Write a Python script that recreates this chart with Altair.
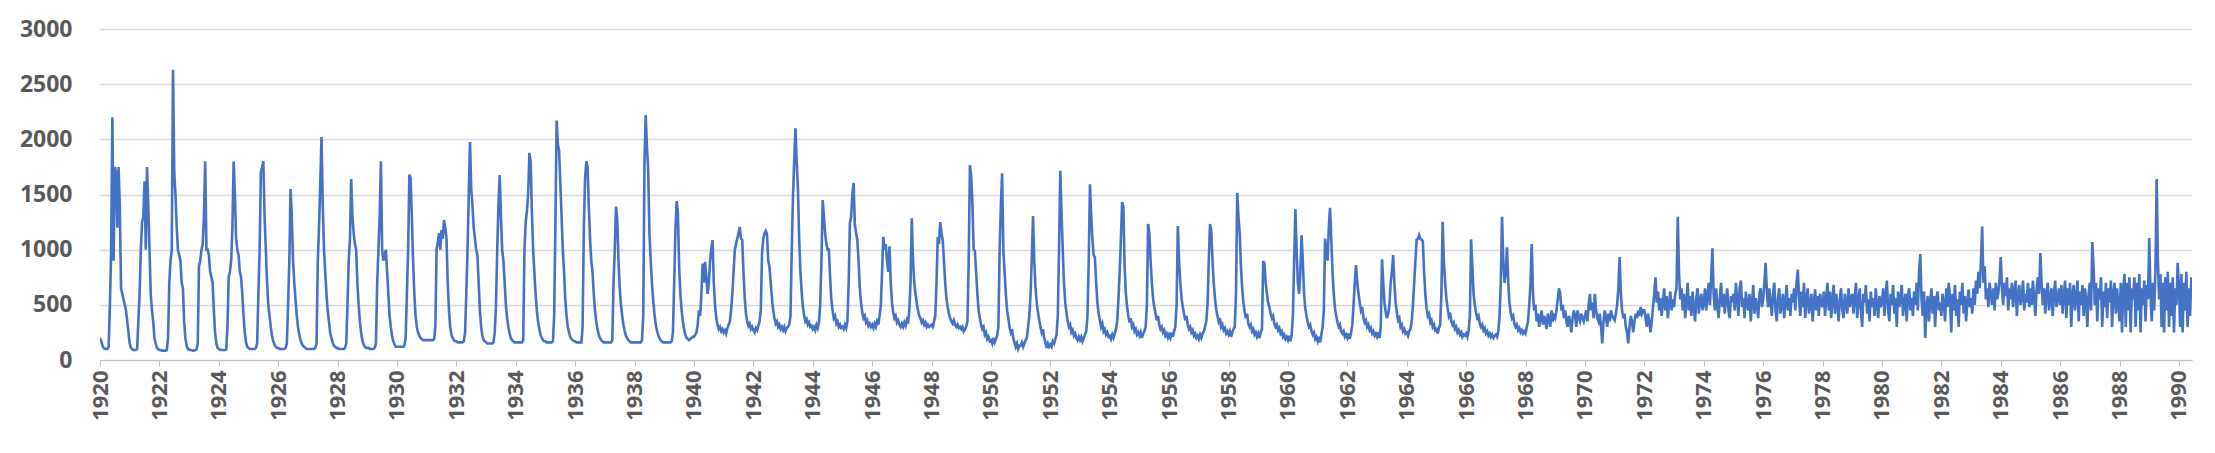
import altair as alt
import pandas as pd

# ---- axis ticks ----
X_TICK_YEARS = list(range(1920, 1991, 2))
Y_TICKS = [0, 500, 1000, 1500, 2000, 2500, 3000]

# ---- values: 24 samples per year (semi-monthly) ----
flow_1920s = [
    [200,170,130,110,100,100,100,120,500,1000,2200,900,1750,1700,1200,1750,1400,650,600,550,500,450,350,250],
    [150,110,100,90,90,90,100,350,600,1000,1250,1300,1620,1000,1750,1400,1000,600,450,350,200,150,110,100],
    [90,90,85,85,85,85,90,200,700,900,1000,2630,1700,1500,1200,1000,950,900,700,650,350,200,130,100],
    [95,90,90,85,85,90,95,150,850,900,1000,1050,1300,1800,1000,1000,950,800,750,700,450,250,150,110],
    [100,95,90,90,90,90,95,300,750,800,900,1200,1800,1500,1100,1000,950,800,750,600,400,250,160,120],
    [110,100,100,100,100,100,110,150,600,1000,1700,1750,1800,1300,1000,700,500,400,300,220,170,140,120,110],
    [110,100,100,100,100,100,110,150,500,900,1550,1300,900,700,550,400,300,230,180,150,130,120,110,100],
    [100,100,100,100,100,100,110,150,900,1200,1600,2020,1400,1000,800,600,450,350,250,200,160,130,120,110],
    [110,100,100,100,100,100,110,150,500,900,1100,1640,1300,1150,1050,1000,700,500,350,250,180,140,120,110],
    [110,110,100,100,100,100,110,150,700,1000,1300,1800,1000,900,950,1000,800,600,400,300,220,170,140,120],
]
flow_1930s = [
    [120,120,120,120,120,120,130,200,600,1000,1680,1650,1300,900,600,400,300,250,220,200,190,180,180,180],
    [180,180,180,180,180,180,190,300,1000,1070,1150,1000,1178,1100,1270,1200,1100,700,450,300,230,200,180,170],
    [170,160,160,160,160,160,170,250,600,1000,1500,1976,1550,1400,1200,1100,1000,950,700,450,300,220,180,170],
    [160,150,150,150,150,150,160,250,500,1000,1400,1677,1300,1000,900,700,500,380,300,240,200,180,170,160],
    [160,160,160,160,160,160,180,1000,1250,1350,1500,1877,1800,1350,1000,800,600,450,350,280,230,200,180,170],
    [170,160,160,160,160,160,170,400,1200,2170,1950,1900,1600,1300,1000,800,550,400,300,250,210,190,180,170],
    [170,160,160,160,160,160,300,1200,1650,1800,1750,1400,1100,900,800,600,450,350,280,230,200,180,170,160],
    [160,160,160,160,160,160,180,700,1000,1390,1270,900,650,500,400,320,260,220,200,180,170,160,160,160],
    [160,160,160,160,160,160,180,400,1800,2220,1933,1722,1148,906,700,550,420,330,270,230,200,180,170,160],
    [160,160,160,160,160,160,170,250,700,1178,1441,1330,846,600,450,350,280,230,200,190,180,190,200,210],
]
flow_1940s = [
    [210,230,250,320,450,400,600,875,700,890,750,600,700,900,1000,1088,700,500,380,320,280,300,260,280],
    [250,270,240,290,320,350,450,600,800,1000,1050,1100,1150,1206,1100,1088,800,560,420,350,310,330,280,300],
    [270,250,290,270,310,350,450,967,1100,1150,1170,1140,900,846,700,560,450,380,330,350,300,320,280,300],
    [270,300,260,290,300,320,400,1000,1480,1800,2100,1800,1560,1100,800,620,480,400,350,370,320,340,300,310],
    [280,300,270,320,290,340,500,900,1450,1300,1148,1050,1000,1000,750,550,450,380,400,330,350,300,320,290],
    [300,280,320,290,350,700,1240,1300,1500,1605,1226,1150,1088,900,650,520,430,380,400,340,360,310,330,300],
    [320,290,330,300,350,320,400,500,800,1115,1000,1050,900,800,1030,700,520,430,380,400,340,360,320,300],
    [330,300,340,310,360,330,450,700,1284,900,700,600,520,450,400,380,340,360,320,340,300,320,300,310],
    [320,300,350,400,700,1115,1050,1250,1150,1088,900,700,560,480,420,380,350,330,360,320,300,320,290,300],
    [280,300,260,280,300,350,900,1767,1670,1420,1000,990,800,600,450,380,320,280,300,230,250,190,210,170],
]
flow_1950s = [
    [180,150,200,160,190,220,300,1000,1400,1692,1000,800,600,450,380,300,250,280,200,160,120,150,100,130],
    [130,160,120,150,180,200,300,400,600,927,1305,900,650,520,430,360,300,250,280,200,160,110,150,120],
    [140,120,170,150,190,230,400,1000,1715,1330,1000,700,520,430,350,300,320,250,270,220,240,200,180,210],
    [180,210,170,200,230,260,400,900,1592,1300,1088,950,930,700,520,420,360,300,330,260,280,230,250,210],
    [220,190,230,200,240,280,350,550,800,1100,1432,1390,850,600,480,400,340,380,300,320,260,280,230,250],
    [220,250,200,240,260,300,500,1233,1150,900,700,560,480,420,360,400,320,280,300,250,270,220,240,200],
    [230,200,250,210,260,300,500,1215,900,700,560,480,420,360,400,320,280,300,250,270,220,240,200,220],
    [190,230,200,240,260,300,350,500,900,1233,1178,906,700,560,460,400,350,380,300,320,270,290,240,260],
    [230,260,210,250,280,300,600,1516,1300,1148,850,650,520,440,380,420,330,300,320,260,280,230,250,210],
    [240,200,250,280,897,875,700,600,520,480,420,380,400,330,300,320,270,290,240,260,210,230,190,210],
]
flow_1960s = [
    [180,220,170,230,400,900,1366,1000,700,600,800,1130,900,600,470,400,340,300,320,260,230,250,190,210],
    [170,210,160,230,300,450,1100,1000,900,1200,1380,1100,800,600,470,400,340,300,320,260,240,260,210,230],
    [200,240,190,250,320,500,700,861,700,600,520,450,480,380,340,360,300,320,270,290,240,260,220,240],
    [210,250,200,300,912,700,520,430,380,420,500,700,800,952,700,520,430,360,380,300,320,260,280,240],
    [250,220,260,280,350,500,700,900,1090,1100,1133,1100,1090,1076,800,600,470,400,420,340,360,300,320,270],
    [280,240,290,320,600,1253,900,700,560,470,400,430,350,320,340,280,300,250,270,230,250,210,230,220],
    [240,210,260,400,1094,846,600,500,430,380,400,330,300,320,270,290,240,260,220,240,210,230,200,220],
    [230,210,260,400,700,1298,900,700,800,1022,700,520,430,380,400,330,300,320,270,290,250,270,240,260],
    [240,300,350,500,700,1051,600,450,500,350,420,300,380,450,320,400,350,280,420,380,300,450,350,400],
    [380,450,550,650,600,450,500,380,450,350,300,400,350,250,380,450,400,300,450,380,350,420,380,350],
]
flow_1970s = [
    [400,450,350,500,600,450,520,380,600,450,380,350,420,300,150,350,450,380,300,420,350,450,400,380],
    [360,420,500,650,934,600,450,380,420,300,250,150,300,400,350,250,350,420,380,450,400,480,420,450],
    [450,380,300,420,350,250,350,480,600,750,520,620,450,560,400,520,650,450,580,380,520,620,450,550],
    [480,600,650,1298,800,550,650,450,600,380,520,700,450,580,400,620,480,350,560,650,420,540,600,450],
    [520,650,450,580,700,500,750,1012,600,450,650,500,380,560,700,480,600,420,550,650,450,380,580,520],
    [600,450,700,550,400,650,720,480,560,380,620,500,450,600,350,520,680,420,560,500,380,600,650,480],
    [550,700,880,620,480,650,520,400,600,700,450,350,560,650,420,500,600,380,520,680,450,560,400,600],
    [520,650,450,700,820,560,400,620,480,700,380,550,650,420,500,600,350,520,640,450,580,400,600,520],
    [480,620,400,560,700,450,620,380,540,680,420,600,500,350,560,650,450,380,600,520,420,650,480,560],
    [600,420,560,700,380,520,650,450,300,600,520,680,420,550,350,620,480,560,400,650,500,380,580,480],
]
flow_1980s = [
    [520,650,400,580,720,450,350,600,500,680,420,560,300,620,480,550,680,400,520,600,350,580,650,450],
    [560,400,620,500,700,450,800,960,550,400,620,200,480,580,350,520,650,420,580,300,560,620,450,520],
    [400,600,520,350,650,480,700,560,250,600,450,680,400,550,300,620,500,700,420,580,350,520,640,480],
    [560,420,650,500,720,600,800,650,900,1210,700,850,550,650,480,700,600,500,650,450,700,550,600,720],
    [934,650,500,700,580,750,450,650,550,700,480,620,720,400,600,680,500,560,720,450,600,520,700,480],
    [650,500,720,560,400,650,750,600,970,700,500,650,420,600,700,450,560,650,400,600,720,480,550,650],
    [500,680,420,600,720,380,650,500,700,300,600,680,450,560,720,350,620,500,680,400,650,550,300,600],
    [700,450,1070,843,500,700,350,650,550,750,300,620,480,700,380,650,520,720,300,600,700,420,650,500],
    [350,700,250,650,780,300,700,450,750,250,650,550,750,300,700,450,780,250,650,500,720,350,680,550],
    [1105,600,350,700,450,800,1640,900,550,780,300,700,250,750,450,800,300,700,400,750,250,650,500,880],
]
flow_1990 = [650,300,780,250,700,450,800,300,650,400,750]

# ---- build the table ----
decades = {1920: flow_1920s, 1930: flow_1930s, 1940: flow_1940s, 1950: flow_1950s,
           1960: flow_1960s, 1970: flow_1970s, 1980: flow_1980s}
records = []
for start, block in decades.items():
    for i, vals in enumerate(block):
        yr = start + i
        n = len(vals)
        for k, v in enumerate(vals):
            records.append({"t": yr + k / n, "q": v})
for k, v in enumerate(flow_1990):
    records.append({"t": 1990 + k / 24, "q": v})
df = pd.DataFrame(records)

FONT = "Open Sans"
LABEL_COLOR = "#595959"

chart = (
    alt.Chart(df)
    .mark_line(color="#4472C4", strokeWidth=2.6, clip=True)
    .encode(
        x=alt.X(
            "t:Q",
            title=None,
            scale=alt.Scale(domain=[1920, 1990.44], nice=False, zero=False),
            axis=alt.Axis(
                values=X_TICK_YEARS, format="d", labelAngle=-90, grid=False,
                domainColor="#bfbfbf", domainWidth=1, tickColor="#bfbfbf", tickSize=6,
                labelFont=FONT, labelFontSize=22, labelFontWeight="bold",
                labelColor=LABEL_COLOR, labelPadding=4, labelOverlap=False,
                labelFlush=False,
            ),
        ),
        y=alt.Y(
            "q:Q",
            title=None,
            scale=alt.Scale(domain=[0, 3000], nice=False),
            axis=alt.Axis(
                values=Y_TICKS, format="d", grid=True, gridColor="#d9d9d9", gridWidth=1.5,
                domain=False, ticks=False,
                labelFont=FONT, labelFontSize=23, labelFontWeight="bold",
                labelColor=LABEL_COLOR, labelPadding=28,
            ),
        ),
    )
    .properties(
        width=2092, height=331,
        padding={"left": 92, "top": 21, "right": 15, "bottom": 85},
        autosize=alt.AutoSizeParams(type="none"),
    )
    .configure_view(stroke=None)
)

chart.save("out.html", embed_options={"renderer": "svg", "actions": False})
